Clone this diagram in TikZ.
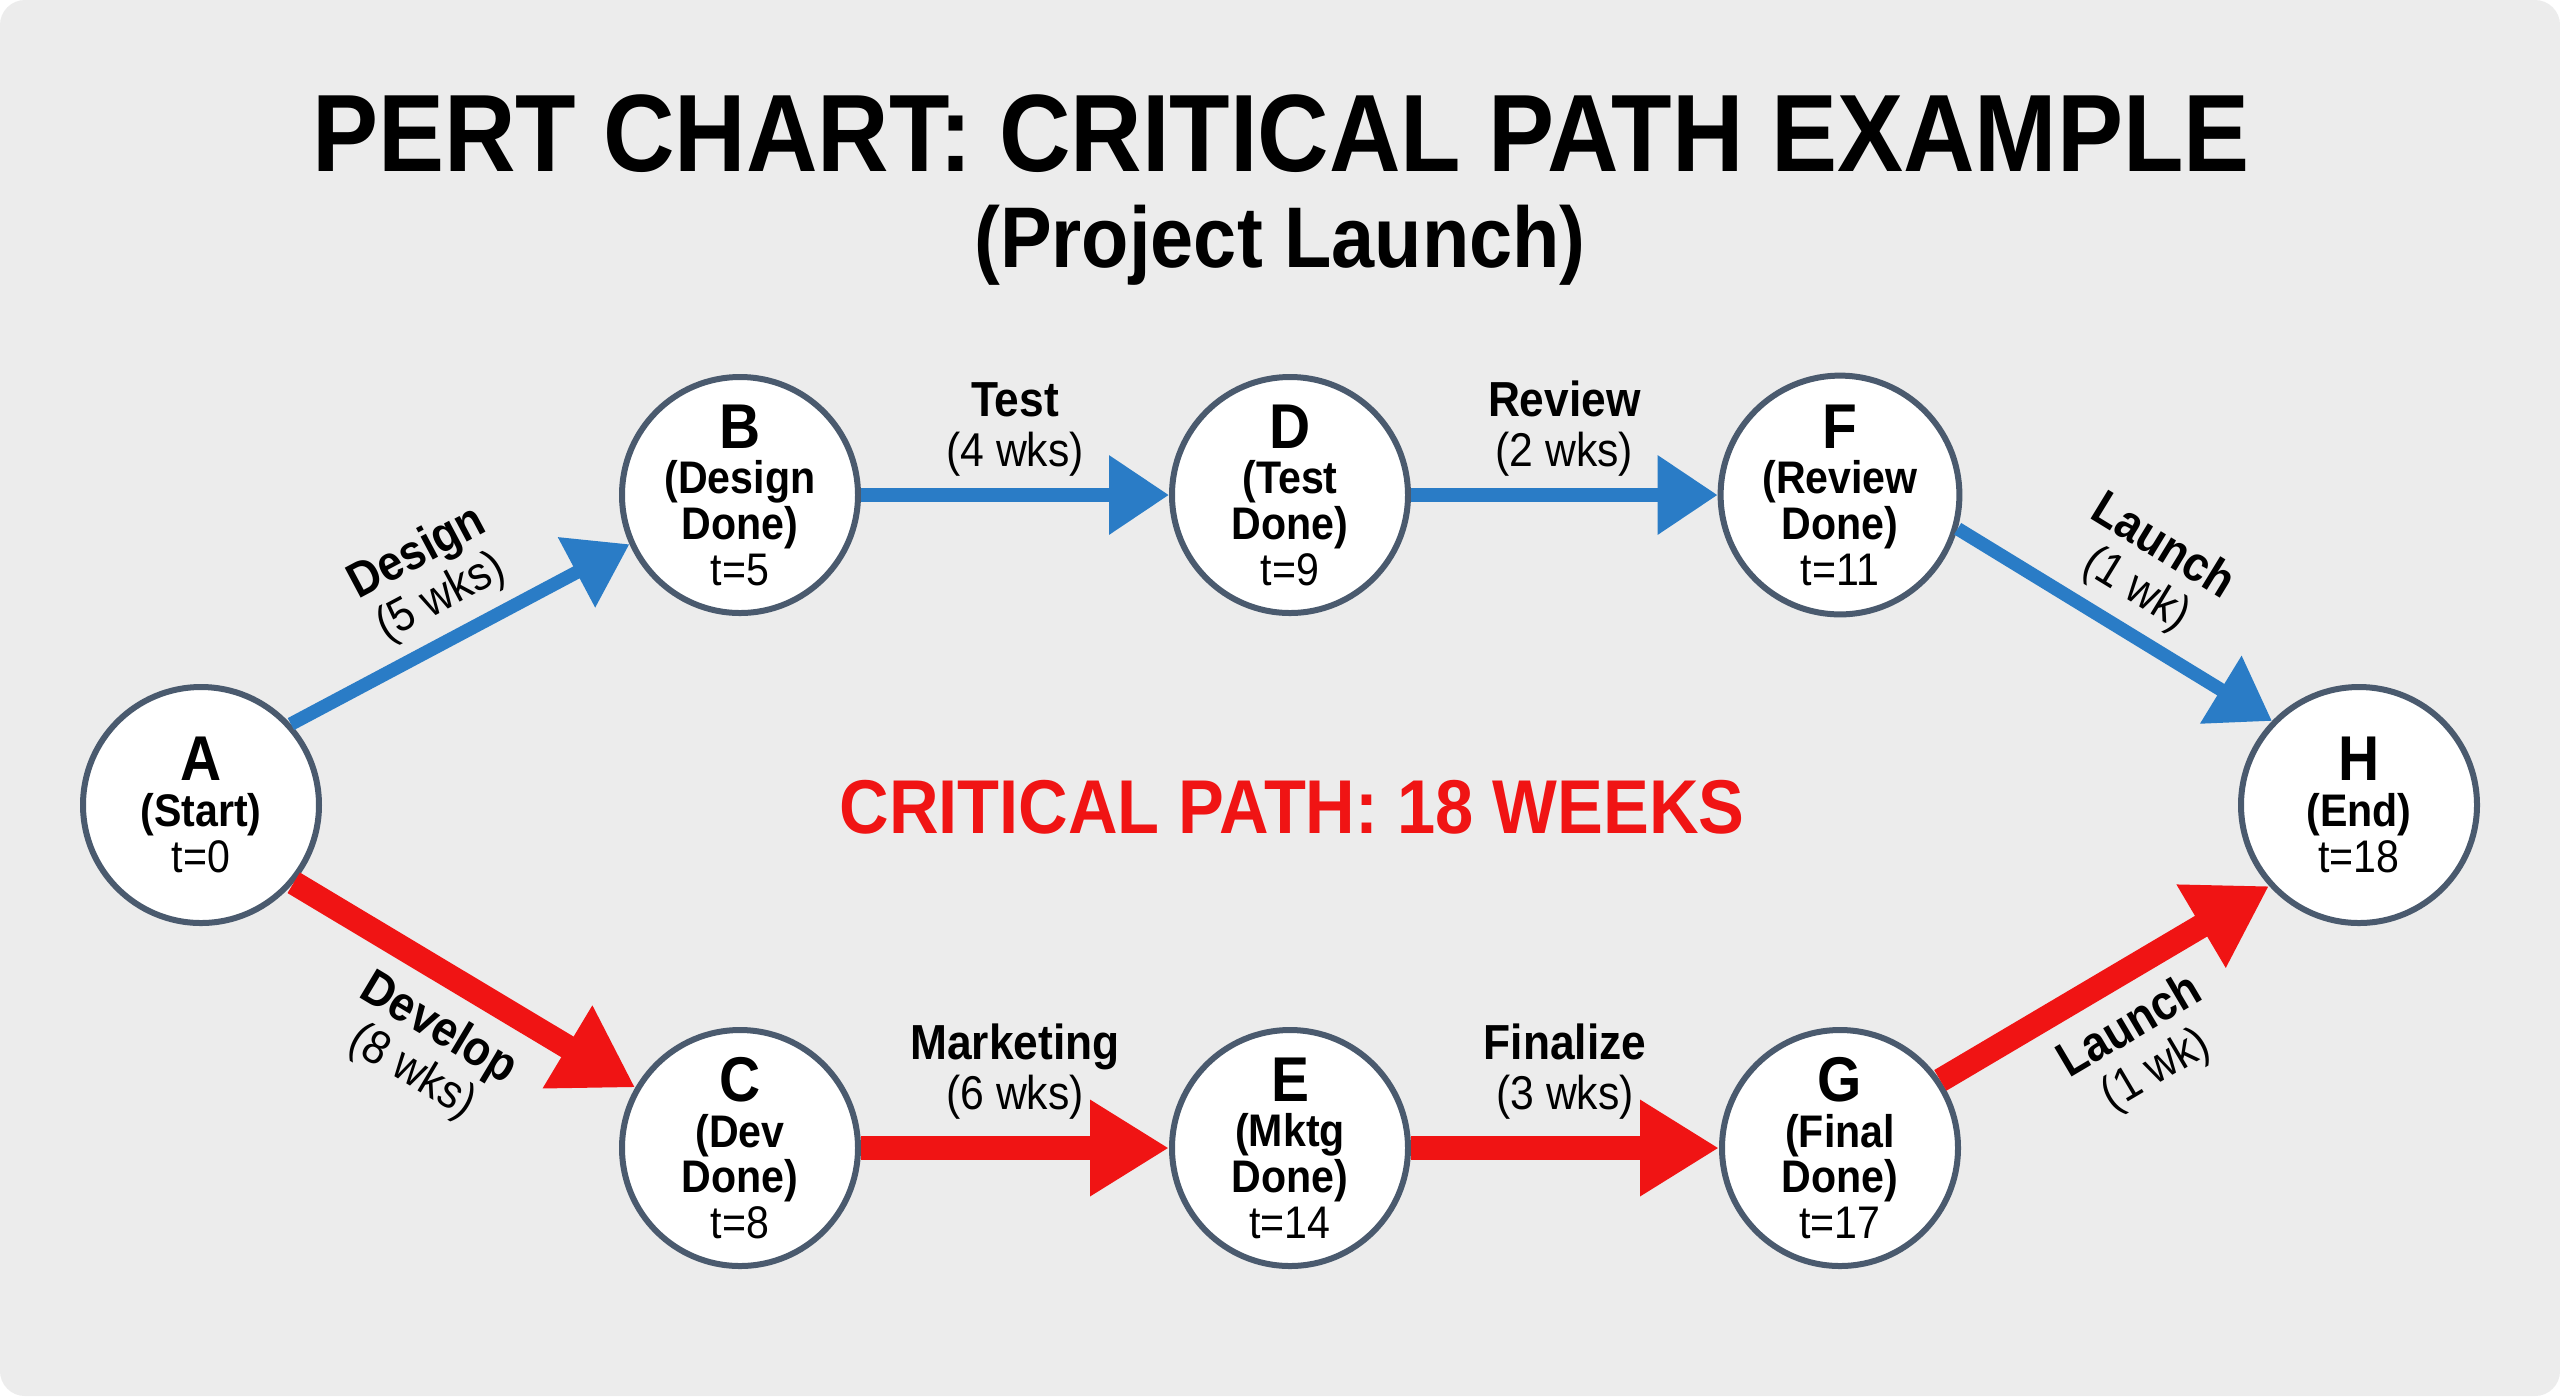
\documentclass[tikz,border=0pt]{standalone}
\usepackage{fontspec}
\setmainfont{Liberation Sans}[FakeStretch=0.9]
\usepackage{tikz}
\usetikzlibrary{arrows.meta}

\definecolor{paper}{HTML}{ECECEC}
\definecolor{ring}{HTML}{4A5A6E}
\definecolor{slack}{HTML}{2A7CC6}
\definecolor{crit}{HTML}{F01414}

\newcommand{\evletter}[1]{{\fontsize{18}{13}\selectfont #1}}
\newcommand{\wks}[1]{{\mdseries\fontsize{13.5}{14.2}\selectfont #1}}

\tikzset{
  event/.style = {circle, draw = ring, fill = white, line width = 0.6mm,
    minimum size = 23.6mm, inner sep = 0pt, align = center,
    font = \bfseries\fontsize{13}{13}\selectfont},
  activity/.style = {align = center, font = \bfseries\fontsize{14}{14.2}\selectfont},
  slackarrow/.style = {draw = slack, line width = 1.35mm,
    -{Triangle[length = 6mm, width = 7.6mm]}},
  critarrow/.style = {draw = crit, line width = 2.4mm,
    -{Triangle[length = 7.9mm, width = 9.1mm]}}
}

\begin{document}
\begin{tikzpicture}

\useasboundingbox ( 0, 0 ) rectangle ( 25.6, -13.96 );
\fill [white] ( 0, 0 ) rectangle ( 25.6, -13.96 );
\fill [paper, rounded corners = 2.5mm] ( 0, 0 ) rectangle ( 25.6, -13.96 );

% Titles
\node [anchor = base, font = \bfseries\fontsize{31.3}{36}\selectfont] (title) at ( 12.81, -1.71 ) {PERT CHART: CRITICAL PATH EXAMPLE};
\node [anchor = base, font = \bfseries\fontsize{24.5}{28}\selectfont] (subtitle) at ( 12.80, -2.67 ) {(Project Launch)};
\node [anchor = base, text = crit, font = \bfseries\fontsize{21.7}{25}\selectfont] (total) at ( 12.92, -8.33 ) {CRITICAL PATH: 18 WEEKS};

% Events
\node [event] (A) at ( 2.01, -8.05 ) {\evletter{A}\\(Start)\\\mdseries t=0};
\node [event] (B) at ( 7.40, -4.95 ) {\evletter{B}\\(Design\\Done)\\\mdseries t=5};
\node [event] (D) at ( 12.90, -4.95 ) {\evletter{D}\\(Test\\Done)\\\mdseries t=9};
\node [event] (F) at ( 18.40, -4.95 ) {\evletter{F}\\(Review\\Done)\\\mdseries t=11};
\node [event] (C) at ( 7.40, -11.48 ) {\evletter{C}\\(Dev\\Done)\\\mdseries t=8};
\node [event] (E) at ( 12.90, -11.48 ) {\evletter{E}\\(Mktg\\Done)\\\mdseries t=14};
\node [event] (G) at ( 18.40, -11.48 ) {\evletter{G}\\(Final\\Done)\\\mdseries t=17};
\node [event] (H) at ( 23.59, -8.05 ) {\evletter{H}\\(End)\\\mdseries t=18};

% Activities with slack
\draw [slackarrow] (A.42) -- (B.204) node [activity, midway, above, sloped] (lDesign) {Design\\\wks{(5 wks)}};
\draw [slackarrow] (B) -- (D) node [activity, midway, above] (lTest) {Test\\\wks{(4 wks)}};
\draw [slackarrow] (D) -- (F) node [activity, midway, above] (lReview) {Review\\\wks{(2 wks)}};
\draw [slackarrow] (F.-16) -- (H.136) node [activity, midway, above, sloped] (lLaunchF) {Launch\\\wks{(1 wk)}};

% Critical activities
\draw [critarrow] (A.-40) -- (C.150) node [activity, midway, below = 0.5mm, sloped] (lDevelop) {Develop\\\wks{(8 wks)}};
\draw [critarrow] (C) -- (E) node [activity, midway, above = 0.5mm] (lMarketing) {Marketing\\\wks{(6 wks)}};
\draw [critarrow] (E) -- (G) node [activity, midway, above = 0.5mm] (lFinalize) {Finalize\\\wks{(3 wks)}};
\draw [critarrow] (G.34) -- (H.222) node [activity, midway, below = 0.5mm, sloped] (lLaunchG) {Launch\\\wks{(1 wk)}};

\end{tikzpicture}
\end{document}
